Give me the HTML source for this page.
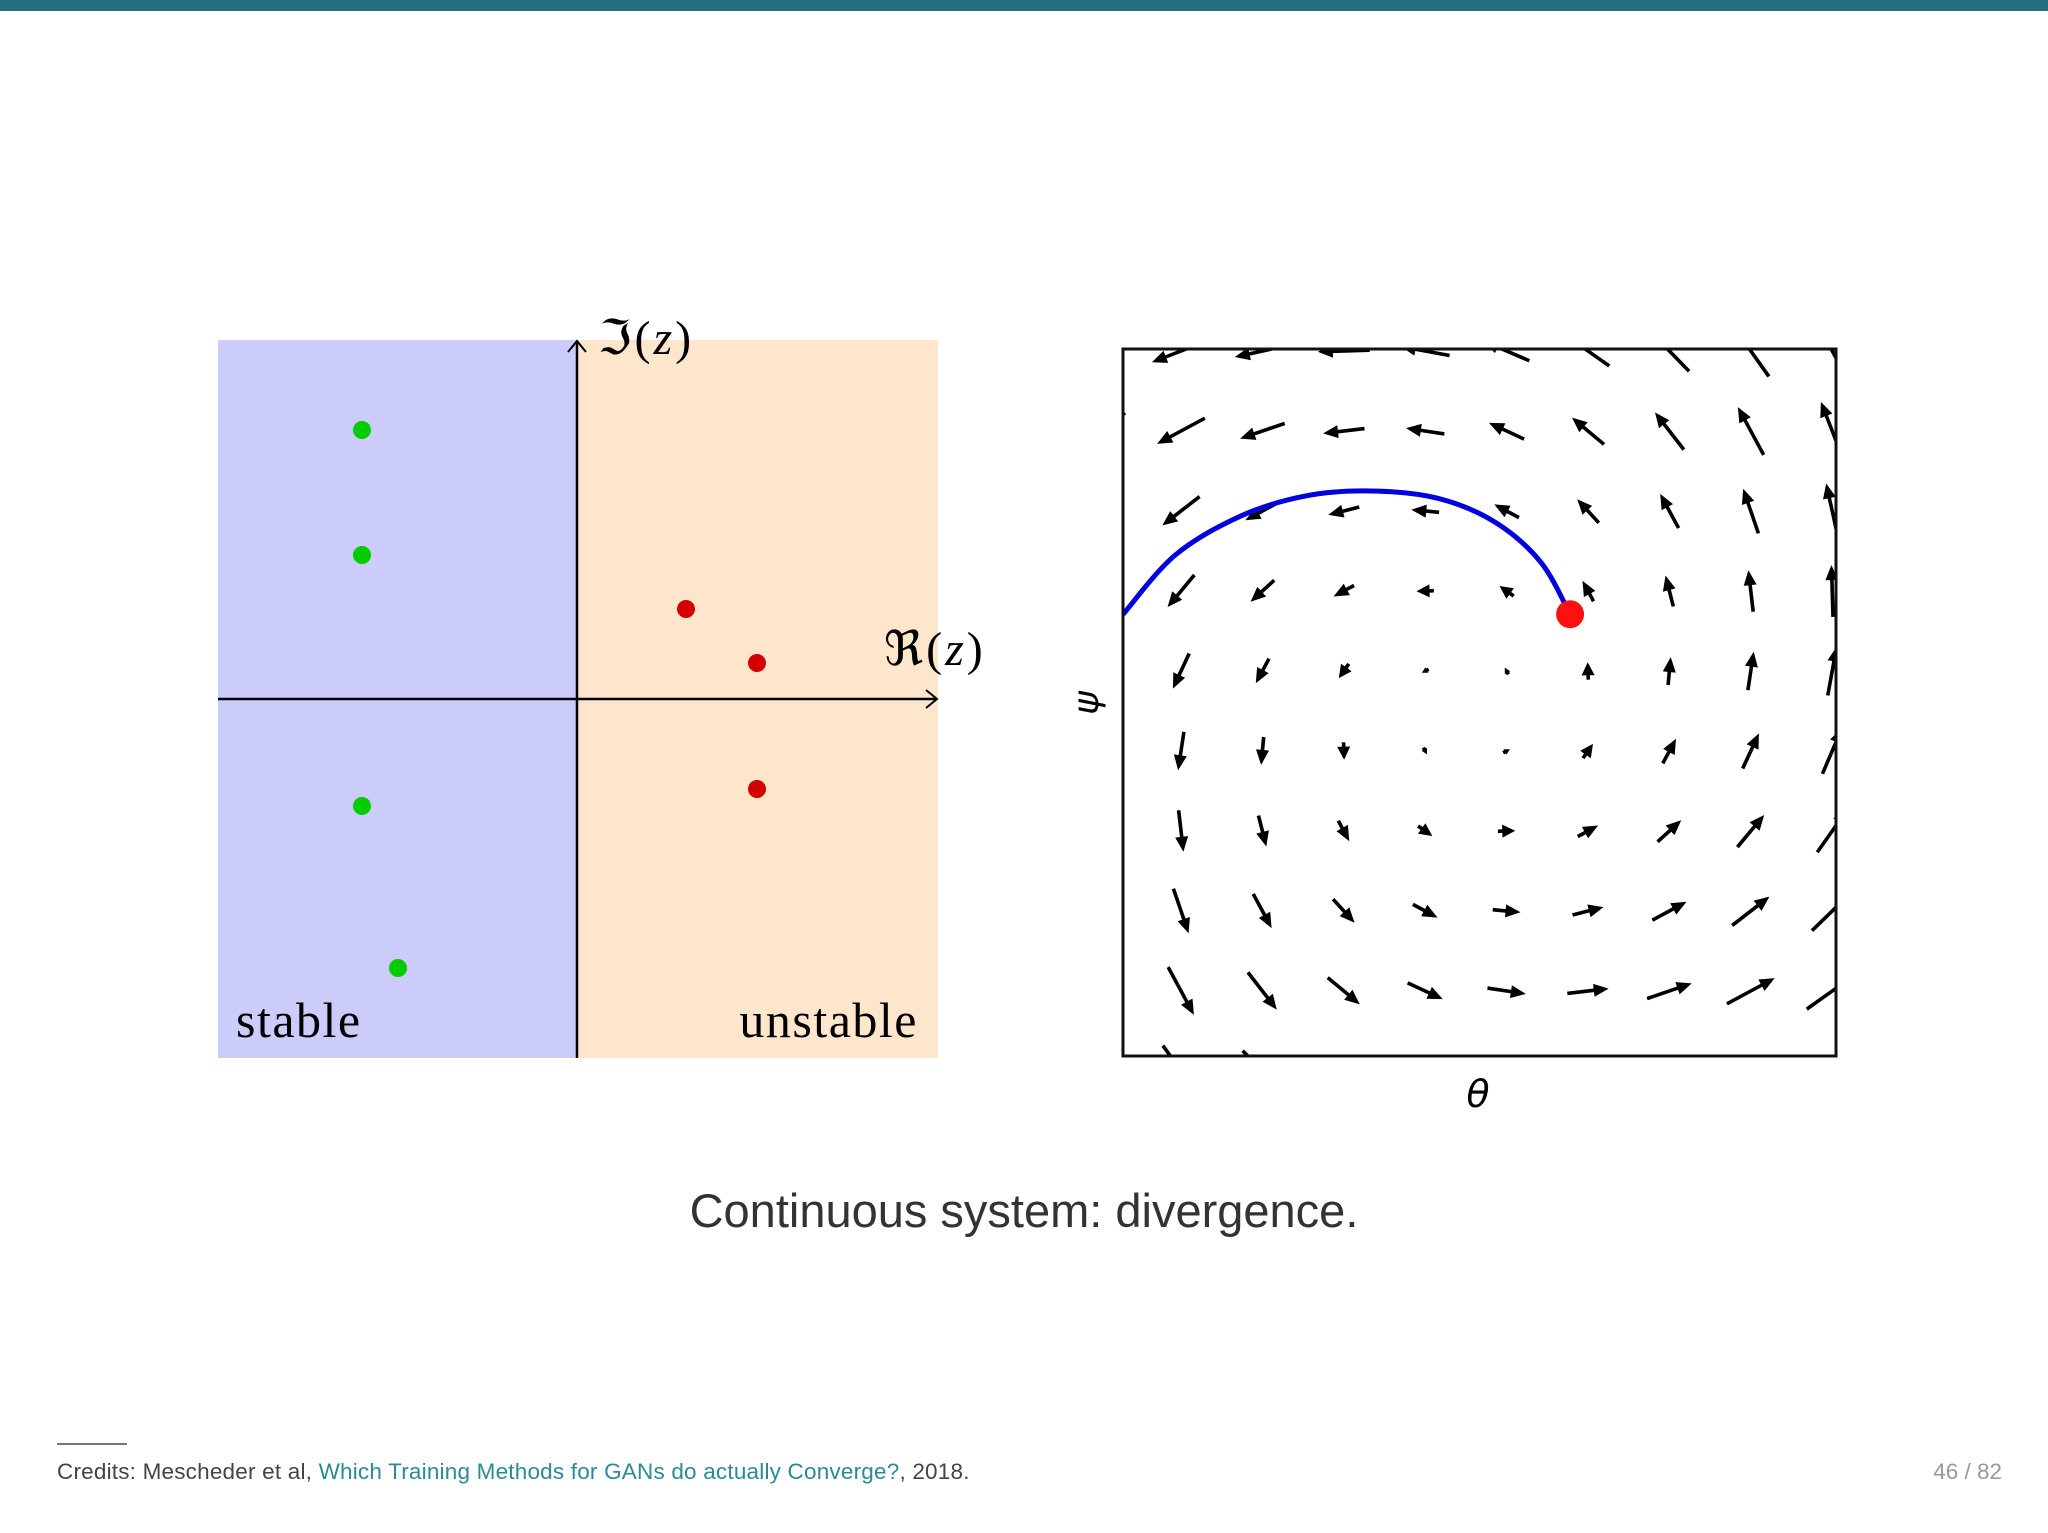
<!DOCTYPE html>
<html><head><meta charset="utf-8"><style>
body{margin:0;width:2048px;height:1533px;background:#fff;position:relative;overflow:hidden;font-family:"Liberation Sans",sans-serif}
#topbar{position:absolute;left:0;top:0;width:2048px;height:11px;background:#23707f}
#caption{position:absolute;left:0;width:2048px;top:1183px;text-align:center;font-size:47px;color:#333}
#rule{position:absolute;left:57px;top:1443px;width:70px;height:2px;background:#777}
#credits{position:absolute;left:57px;top:1459px;font-size:22.5px;color:#444;letter-spacing:0.2px}
#credits a{color:#2a8a95;text-decoration:none}
#pagenum{position:absolute;right:46px;top:1459px;font-size:22.5px;color:#999}
svg{position:absolute;left:0;top:0}
</style></head><body>
<div id="topbar"></div>
<svg id="chart" width="2048" height="1533">
 <g id="left">
  <rect x="218" y="340" width="359" height="718" fill="#ccccfb"/>
  <rect x="577" y="340" width="361" height="718" fill="#fee6cd"/>
  <line x1="218" y1="699" x2="936" y2="699" stroke="#000" stroke-width="2.5"/>
  <polyline points="926,690 937,699 926,708" fill="none" stroke="#000" stroke-width="2"/>
  <line x1="577" y1="1058" x2="577" y2="342" stroke="#000" stroke-width="2.5"/>
  <polyline points="568,352 577,341 586,352" fill="none" stroke="#000" stroke-width="2"/>
  <text x="598" y="354" font-family="Liberation Serif,serif" font-size="48" letter-spacing="3">ℑ(<tspan font-style="italic">z</tspan>)</text>
  <text x="884" y="665" font-family="Liberation Serif,serif" font-size="48" letter-spacing="3">ℜ(<tspan font-style="italic">z</tspan>)</text>
  <text x="236" y="1037" font-family="Liberation Serif,serif" font-size="50" letter-spacing="1.5">stable</text>
  <text x="918" y="1037" text-anchor="end" font-family="Liberation Serif,serif" font-size="50" letter-spacing="1.5">unstable</text>
  <g id="dots"></g>
 </g>
 <g id="right">
  <defs><clipPath id="boxclip"><rect x="1123" y="349" width="713" height="707"/></clipPath></defs>
  <g id="arrows" clip-path="url(#boxclip)"></g>
  <path id="traj" fill="none" stroke="#0000e0" stroke-width="5"/>
  <circle id="start" r="14" fill="#ff1010"/>
  <rect x="1123" y="349" width="713" height="707" fill="none" stroke="#111" stroke-width="3"/>
  <text x="1478" y="1107" text-anchor="middle" font-family="DejaVu Sans,sans-serif" font-style="italic" font-size="38">θ</text>
  <text x="0" y="0" transform="translate(1098,703) rotate(-90)" text-anchor="middle" font-family="DejaVu Sans,sans-serif" font-style="italic" font-size="36">ψ</text>
 </g>
</svg>
<div id="caption">Continuous system: divergence.</div>
<div id="rule"></div>
<div id="credits">Credits: Mescheder et al, <a>Which Training Methods for GANs do actually Converge?</a>, 2018.</div>
<div id="pagenum">46 / 82</div>
<script>
const NS="http://www.w3.org/2000/svg";
// eigenvalues (complex plane units)
const stableRe=[-2.15,-2.15,-2.15,-1.79];
const stableIm=[2.69,1.44,-1.07,-2.69];
const unstableRe=[1.09,1.80,1.80];
const unstableIm=[0.90,0.36,-0.90];
// vector field grid (10x10), rows top->bottom, cols left->right
const fieldU=[
[-5.85,-5.55,-5.25,-4.95,-4.65,-4.35,-4.05,-3.75,-3.45,-3.15],
[-4.85,-4.55,-4.25,-3.95,-3.65,-3.35,-3.05,-2.75,-2.45,-2.15],
[-3.85,-3.55,-3.25,-2.95,-2.65,-2.35,-2.05,-1.75,-1.45,-1.15],
[-2.85,-2.55,-2.25,-1.95,-1.65,-1.35,-1.05,-0.75,-0.45,-0.15],
[-1.85,-1.55,-1.25,-0.95,-0.65,-0.35,-0.05,0.25,0.55,0.85],
[-0.85,-0.55,-0.25,0.05,0.35,0.65,0.95,1.25,1.55,1.85],
[0.15,0.45,0.75,1.05,1.35,1.65,1.95,2.25,2.55,2.85],
[1.15,1.45,1.75,2.05,2.35,2.65,2.95,3.25,3.55,3.85],
[2.15,2.45,2.75,3.05,3.35,3.65,3.95,4.25,4.55,4.85],
[3.15,3.45,3.75,4.05,4.35,4.65,4.95,5.25,5.55,5.85]];
const fieldV=[
[-3.15,-2.15,-1.15,-0.15,0.85,1.85,2.85,3.85,4.85,5.85],
[-3.45,-2.45,-1.45,-0.45,0.55,1.55,2.55,3.55,4.55,5.55],
[-3.75,-2.75,-1.75,-0.75,0.25,1.25,2.25,3.25,4.25,5.25],
[-4.05,-3.05,-2.05,-1.05,-0.05,0.95,1.95,2.95,3.95,4.95],
[-4.35,-3.35,-2.35,-1.35,-0.35,0.65,1.65,2.65,3.65,4.65],
[-4.65,-3.65,-2.65,-1.65,-0.65,0.35,1.35,2.35,3.35,4.35],
[-4.95,-3.95,-2.95,-1.95,-0.95,0.05,1.05,2.05,3.05,4.05],
[-5.25,-4.25,-3.25,-2.25,-1.25,-0.25,0.75,1.75,2.75,3.75],
[-5.55,-4.55,-3.55,-2.55,-1.55,-0.55,0.45,1.45,2.45,3.45],
[-5.85,-4.85,-3.85,-2.85,-1.85,-0.85,0.15,1.15,2.15,3.15]];
// trajectory in grid units (col,row)
const trajTheta=[-0.71,-0.07,0.74,1.54,2.34,3.15,3.86,4.42,4.78];
const trajPsi=[2.29,1.55,1.06,0.81,0.75,0.84,1.14,1.64,2.29];

const reX=v=>577+v*100, imY=v=>699-v*100;
const gx=c=>1181+81.4*c, gy=r=>431+80*r;
const dots=document.getElementById('dots');
function dot(x,y,fill,name){const c=document.createElementNS(NS,'circle');
c.setAttribute('cx',x);c.setAttribute('cy',y);c.setAttribute('r',9);c.setAttribute('fill',fill);


dots.appendChild(c);}
stableRe.forEach((r,i)=>dot(reX(r),imY(stableIm[i]),'#00cc00','stable-eigenvalue'));
unstableRe.forEach((r,i)=>dot(reX(r),imY(unstableIm[i]),'#d40000','unstable-eigenvalue'));

const ag=document.getElementById('arrows');
const S=10.5;
for(let r=0;r<10;r++)for(let c=0;c<10;c++){
 const u=fieldU[r][c]*S, v=-fieldV[r][c]*S;
 const len=Math.hypot(u,v); if(len<0.5)continue;
 const cx=gx(c-1), cy=gy(r-1);
 const ux=u/len, uy=v/len, px=-uy, py=ux;
 const x0=cx-u/2,y0=cy-v/2,x1=cx+u/2,y1=cy+v/2;
 const hl=Math.min(15,len*0.75), hw=Math.min(6.5,len*0.4), sw=1.8;
 const bx=x1-ux*hl, by=y1-uy*hl;
 const pts=[[x0+px*sw,y0+py*sw],[bx+px*sw,by+py*sw],[bx+px*hw,by+py*hw],[x1,y1],[bx-px*hw,by-py*hw],[bx-px*sw,by-py*sw],[x0-px*sw,y0-py*sw]];
 const p=document.createElementNS(NS,'polygon');
 p.setAttribute('points',pts.map(q=>q[0].toFixed(1)+','+q[1].toFixed(1)).join(' '));
 p.setAttribute('fill','#000');
 
 
 ag.appendChild(p);
}
// smooth trajectory (Catmull-Rom)
const P=trajTheta.map((t,i)=>[gx(t),gy(trajPsi[i])]);
let d='M'+P[0][0]+','+P[0][1];
for(let i=0;i<P.length-1;i++){const p0=P[Math.max(0,i-1)],p1=P[i],p2=P[i+1],p3=P[Math.min(P.length-1,i+2)];
d+=' C'+(p1[0]+(p2[0]-p0[0])/6)+','+(p1[1]+(p2[1]-p0[1])/6)+' '+(p2[0]-(p3[0]-p1[0])/6)+','+(p2[1]-(p3[1]-p1[1])/6)+' '+p2[0]+','+p2[1];}
document.getElementById('traj').setAttribute('d',d);
const last=P[P.length-1];
document.getElementById('start').setAttribute('cx',last[0]);
document.getElementById('start').setAttribute('cy',last[1]);
</script>
</body></html>
